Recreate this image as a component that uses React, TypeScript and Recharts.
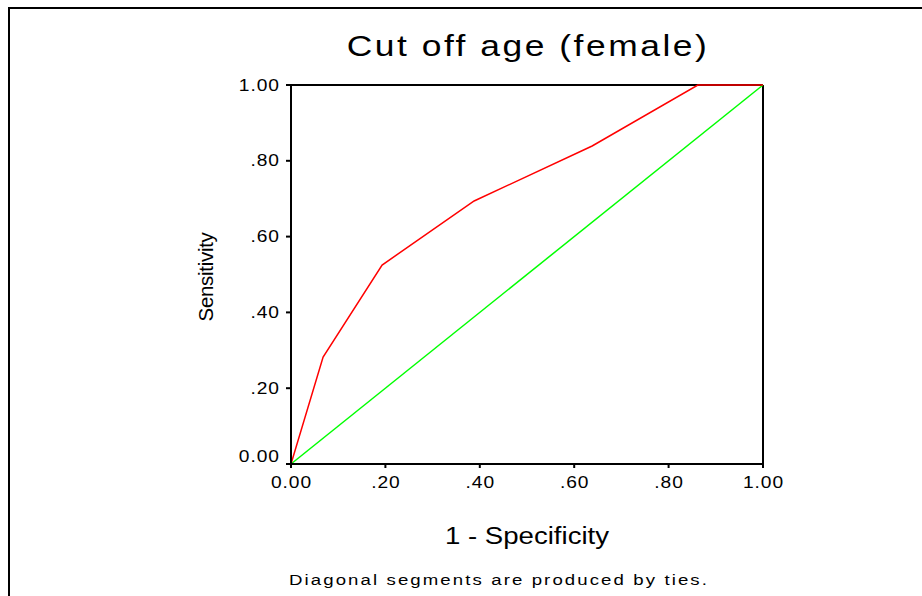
import { LineChart, Line, XAxis, YAxis, ReferenceLine } from 'recharts';

const rocX = [0, 0.068, 0.193, 0.388, 0.638, 0.862, 1];
const rocY = [0, 0.282, 0.525, 0.694, 0.839, 1, 1];
const diagX = [0, 1];
const diagY = [0, 1];
const ticks = [0, 0.2, 0.4, 0.6, 0.8, 1];

const rocData = rocX.map((x, i) => ({ x, y: rocY[i] }));
const diagData = diagX.map((x, i) => ({ x, y: diagY[i] }));

const FONT = '"Liberation Sans", Arial, sans-serif';
const SX = 1.2; // the source image is stretched sideways

const fmt = (v: number) => (v === 0 ? '0.00' : v === 1 ? '1.00' : '.' + Math.round(v * 100));

const XTick = (props: any) => {
  const { x, y, payload } = props;
  return (
    <text transform={`translate(${x + 0.5},${y + 18}) scale(${SX},1)`} textAnchor="middle" fontSize={16} letterSpacing={0.8} fill="#000" fontFamily={FONT}>
      {fmt(payload.value)}
    </text>
  );
};

const YTick = (props: any) => {
  const { x, y, payload } = props;
  // SPSS nudges the bottom label up so it clears the x labels
  const shift = payload.value === 0 ? -8 : 0;
  return (
    <text transform={`translate(${x - 4},${y + 5.5 + shift}) scale(${SX},1)`} textAnchor="end" fontSize={16} letterSpacing={0.8} fill="#000" fontFamily={FONT}>
      {fmt(payload.value)}
    </text>
  );
};

const stretched = (extra: object) => ({
  position: 'absolute' as const,
  left: 0,
  textAlign: 'center' as const,
  color: '#000',
  whiteSpace: 'nowrap' as const,
  transform: `scaleX(${SX})`,
  ...extra,
});

const App = () => {
  return (
    <div style={{ position: 'absolute', left: 0, top: 0, width: 922, height: 596, background: '#fff', fontFamily: FONT, overflow: 'hidden' }}>
      <div style={{ position: 'absolute', left: 8, top: 7, width: 930, height: 600, borderLeft: '2px solid #000', borderTop: '2px solid #000' }} />
      <div style={stretched({ left: 328, width: 400, top: 29, fontSize: 29.5, letterSpacing: 2.1 })}>
        Cut off age (female)
      </div>
      <div style={{ position: 'absolute', left: 206, top: 277, fontSize: 20.5, letterSpacing: -0.3, color: '#000', transform: 'translate(-50%, -50%) rotate(-90deg)', whiteSpace: 'nowrap' }}>
        Sensitivity
      </div>
      <div style={stretched({ left: 327, width: 400, top: 523, fontSize: 23 })}>
        1 - Specificity
      </div>
      <div style={stretched({ left: 299, width: 400, top: 571, fontSize: 15.5, letterSpacing: 1.75 })}>
        Diagonal segments are produced by ties.
      </div>
      <div style={{ position: 'absolute', left: 0, top: 0 }}>
        <LineChart width={922} height={596} margin={{ top: 85, right: 159, bottom: 102, left: 231 }}>
          <XAxis
            type="number"
            dataKey="x"
            domain={[0, 1]}
            ticks={ticks}
            height={30}
            stroke="#000"
            strokeWidth={2}
            tickSize={4}
            tick={<XTick />}
            allowDuplicatedCategory={false}
          />
          <YAxis
            type="number"
            dataKey="y"
            domain={[0, 1]}
            ticks={ticks}
            width={60}
            stroke="#000"
            strokeWidth={2}
            tickSize={5}
            tick={<YTick />}
          />
          <ReferenceLine y={1} stroke="#000" strokeWidth={2} />
          <ReferenceLine x={1} stroke="#000" strokeWidth={2} />
          <Line data={diagData} dataKey="y" stroke="#00ff00" strokeWidth={1.5} dot={false} isAnimationActive={false} />
          <Line data={rocData} dataKey="y" stroke="#ff0000" strokeWidth={1.5} dot={false} isAnimationActive={false} />
        </LineChart>
      </div>
    </div>
  );
};

export default App;
